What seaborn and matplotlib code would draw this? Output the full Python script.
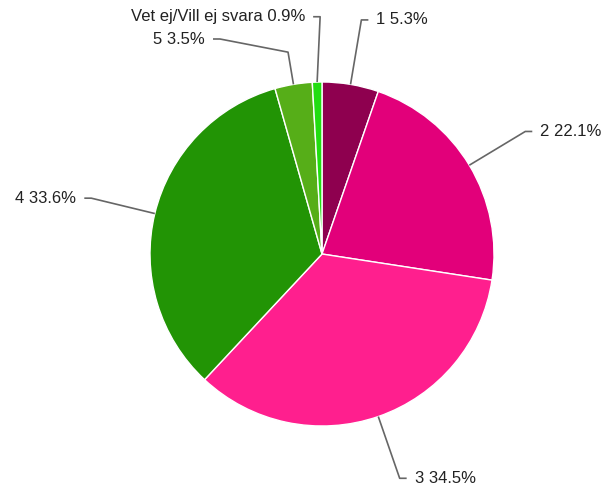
import numpy as np
import matplotlib
matplotlib.use('Agg')
import matplotlib.pyplot as plt
import seaborn as sns

# Answer categories and their shares (%)
labels = ['1', '2', '3', '4', '5', 'Vet ej/Vill ej svara']
shares = [5.3, 22.1, 34.5, 33.6, 3.5, 0.9]
colors = ['#8e004f', '#e2007a', '#ff1f8e', '#229405', '#56ae18', '#22dd11']

sns.set_theme(style='white')
plt.rcParams['font.family'] = ['Liberation Sans', 'DejaVu Sans']

W, H = 606, 487
fig = plt.figure(figsize=(W / 100, H / 100), dpi=100)
ax = fig.add_axes([0, 0, 1, 1])

cx, cy, r = 322, H - 254, 172
wedges, _ = ax.pie(shares, colors=colors, startangle=90, counterclock=False,
                   center=(cx, cy), radius=r,
                   wedgeprops=dict(edgecolor='white', linewidth=1))

# leader lines: edge -> knee -> short horizontal stub -> text
knee = [1.38, 1.38, 1.38, 1.38, 1.19, 1.38]
for i, w in enumerate(wedges):
    a = np.deg2rad((w.theta1 + w.theta2) / 2)
    ex, ey = cx + r * np.cos(a), cy + r * np.sin(a)
    kx, ky = cx + knee[i] * r * np.cos(a), cy + knee[i] * r * np.sin(a)
    side = 1 if np.cos(a) > 0 else -1
    pts = [(ex, ey), (kx, ky)]
    if i == 4:
        # small slice next to 'Vet ej' is pushed out to the left
        kx, ky = 220, H - 39
        pts.append((kx, ky))
    elif i == 5:
        # tiny slice: knee nudged right so its label clears the 5 label
        kx = ex + 3
        pts[1] = (kx, ky)
    pts.append((kx + side * 7, ky))
    xs, ys = zip(*pts)
    ax.plot(xs, ys, color='#666666', lw=1.2, solid_capstyle='butt')
    ax.text(kx + side * 15, ky, f'{labels[i]} {shares[i]}%',
            ha='left' if side > 0 else 'right', va='center',
            fontsize=12, color='#222222')

ax.set_xlim(0, W)
ax.set_ylim(0, H)
ax.set_aspect('equal')
ax.axis('off')

plt.savefig('out.png', dpi=100, facecolor='white')
